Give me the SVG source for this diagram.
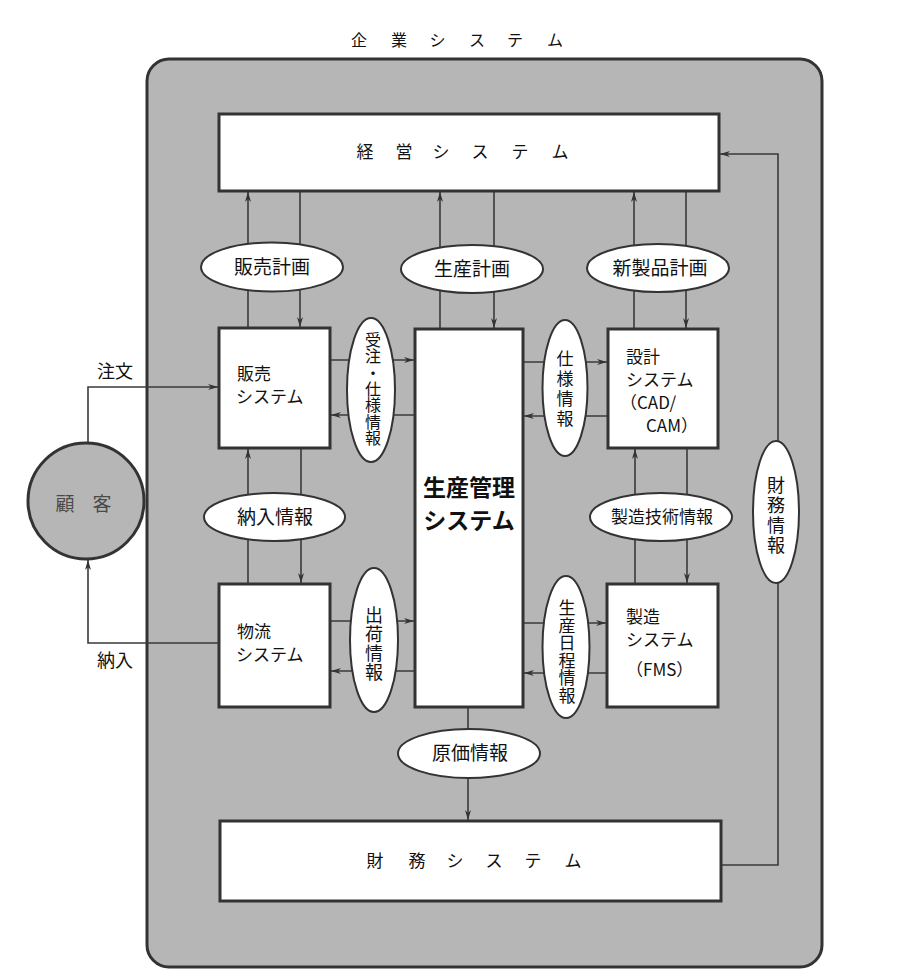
<svg xmlns="http://www.w3.org/2000/svg" width="901" height="977" viewBox="0 0 901 977">
<style>
text{font-family:"Noto Sans CJK JP","Liberation Sans",sans-serif;fill:#111}
.box{fill:#fff;stroke:#333;stroke-width:3}
.ell{fill:#fff;stroke:#333;stroke-width:2}
.ln{fill:none;stroke:#3a3a3a;stroke-width:1.6}
.mid{text-anchor:middle}
.vt{writing-mode:vertical-rl;text-anchor:middle}
.f19{font-size:19px}
.f18{font-size:18px}
.f17{font-size:17px}
.f16{font-size:16px}
</style>
<defs>
<marker id="ah" viewBox="0 0 10 6" refX="10" refY="3" markerWidth="10" markerHeight="6" markerUnits="userSpaceOnUse" orient="auto">
<path d="M0,0 L10,3 L0,6 L3,3 z" fill="#333"/>
</marker>
</defs>
<rect width="901" height="977" fill="#fff"/>
<text class="f16 mid" x="359 399 437.5 477 515 555" y="46">企業システム</text>
<g id="enterprise">
<rect x="147" y="59" width="675" height="908" rx="22" fill="#b6b6b6" stroke="#333" stroke-width="3"/>
</g>
<g id="connectors">
<line class="ln" x1="248" y1="328" x2="248" y2="192" marker-end="url(#ah)"/>
<line class="ln" x1="300" y1="192" x2="300" y2="327" marker-end="url(#ah)"/>
<line class="ln" x1="440" y1="329" x2="440" y2="192" marker-end="url(#ah)"/>
<line class="ln" x1="494" y1="192" x2="494" y2="328" marker-end="url(#ah)"/>
<line class="ln" x1="634" y1="329" x2="634" y2="192" marker-end="url(#ah)"/>
<line class="ln" x1="686" y1="192" x2="686" y2="328" marker-end="url(#ah)"/>
<line class="ln" x1="330" y1="360" x2="414" y2="360" marker-end="url(#ah)"/>
<line class="ln" x1="415" y1="415" x2="331" y2="415" marker-end="url(#ah)"/>
<line class="ln" x1="523" y1="362" x2="607" y2="362" marker-end="url(#ah)"/>
<line class="ln" x1="608" y1="416" x2="524" y2="416" marker-end="url(#ah)"/>
<line class="ln" x1="248" y1="584" x2="248" y2="449" marker-end="url(#ah)"/>
<line class="ln" x1="301" y1="448" x2="301" y2="583" marker-end="url(#ah)"/>
<line class="ln" x1="635" y1="584" x2="635" y2="449" marker-end="url(#ah)"/>
<line class="ln" x1="687" y1="448" x2="687" y2="583" marker-end="url(#ah)"/>
<line class="ln" x1="330" y1="621" x2="414" y2="621" marker-end="url(#ah)"/>
<line class="ln" x1="415" y1="671" x2="331" y2="671" marker-end="url(#ah)"/>
<line class="ln" x1="523" y1="623" x2="606" y2="623" marker-end="url(#ah)"/>
<line class="ln" x1="607" y1="673" x2="524" y2="673" marker-end="url(#ah)"/>
<line class="ln" x1="468" y1="707" x2="468" y2="820" marker-end="url(#ah)"/>
<polyline class="ln" points="721,865 778,865 778,154 720,154" marker-end="url(#ah)"/>
<polyline class="ln" points="88,443 88,387 218,387" marker-end="url(#ah)"/>
<polyline class="ln" points="219,643 88,643 88,560" marker-end="url(#ah)"/>
<text class="f18" x="97" y="378">注文</text>
<text class="f18" x="97" y="667">納入</text>
</g>
<g id="keiei">
<rect class="box" x="219" y="114" width="500" height="77"/>
<text class="f17 mid" x="365 404 441 480 520 560" y="158">経営システム</text>
</g>
<g id="zaimu">
<rect class="box" x="220" y="821" width="501" height="80"/>
<text class="f17 mid" x="375 417 455 494 533 573" y="867">財務システム</text>
</g>
<g id="hanbai">
<rect class="box" x="219" y="328" width="111" height="120"/>
<text class="f17" x="237" y="380">販売</text>
<text class="f17" x="236" y="403">システム</text>
</g>
<g id="butsuryu">
<rect class="box" x="219" y="584" width="111" height="123"/>
<text class="f17" x="237" y="638">物流</text>
<text class="f17" x="236" y="661">システム</text>
</g>
<g id="seisan-kanri">
<rect class="box" x="415" y="329" width="108" height="378"/>
<text x="469" y="496" class="mid" font-size="23" font-weight="bold">生産管理</text>
<text x="469" y="529" class="mid" font-size="23" font-weight="bold">システム</text>
</g>
<g id="sekkei">
<rect class="box" x="608" y="329" width="110" height="119"/>
<text class="f17" x="626" y="363">設計</text>
<text class="f17" x="626" y="386">システム</text>
<text class="f17" x="620" y="409">（CAD/</text>
<text class="f17" x="646" y="432">CAM）</text>
</g>
<g id="seizo">
<rect class="box" x="607" y="584" width="111" height="123"/>
<text class="f17" x="626" y="623">製造</text>
<text class="f17" x="626" y="646">システム</text>
<text class="f17" x="626" y="676">（FMS）</text>
</g>
<g id="kokyaku">
<circle cx="86" cy="501" r="58" fill="#b6b6b6" stroke="#333" stroke-width="3"/>
<text x="65 102" y="511" class="mid" font-size="19" style="fill:#4a4a4a">顧客</text>
</g>
<g id="e-hanbai-keikaku">
<ellipse class="ell" cx="272" cy="267" rx="71" ry="24.5"/>
<text class="f19 mid" x="272" y="274">販売計画</text>
</g>
<g id="e-seisan-keikaku">
<ellipse class="ell" cx="472" cy="269" rx="71" ry="24"/>
<text class="f19 mid" x="472" y="276">生産計画</text>
</g>
<g id="e-shinseihin">
<ellipse class="ell" cx="658" cy="268" rx="71" ry="24"/>
<text class="f19 mid" x="660" y="275">新製品計画</text>
</g>
<g id="e-juchu">
<ellipse class="ell" cx="371" cy="390" rx="24" ry="72"/>
<text class="f16 vt" x="373" y="389" letter-spacing="0.3">受注・仕様情報</text>
</g>
<g id="e-shiyo">
<ellipse class="ell" cx="565" cy="388" rx="22.5" ry="68"/>
<text class="f17 vt" x="565" y="390" letter-spacing="3">仕様情報</text>
</g>
<g id="e-nonyu">
<ellipse class="ell" cx="274.5" cy="517" rx="70.5" ry="24"/>
<text class="f19 mid" x="275" y="524">納入情報</text>
</g>
<g id="e-seizo-gijutsu">
<ellipse class="ell" cx="661" cy="517" rx="71" ry="24"/>
<text class="f17 mid" x="662" y="523">製造技術情報</text>
</g>
<g id="e-zaimu">
<ellipse class="ell" cx="776" cy="512" rx="23" ry="71"/>
<text class="f18 vt" x="776" y="516" letter-spacing="1.7">財務情報</text>
</g>
<g id="e-shukka">
<ellipse class="ell" cx="374" cy="640" rx="24" ry="72"/>
<text class="f18 vt" x="374" y="644" letter-spacing="1">出荷情報</text>
</g>
<g id="e-nittei">
<ellipse class="ell" cx="566" cy="647" rx="23.5" ry="71"/>
<text class="f17 vt" x="567" y="652" letter-spacing="0.5">生産日程情報</text>
</g>
<g id="e-genka">
<ellipse class="ell" cx="469" cy="753.5" rx="71" ry="24.5"/>
<text class="f19 mid" x="470" y="760">原価情報</text>
</g>
</svg>
